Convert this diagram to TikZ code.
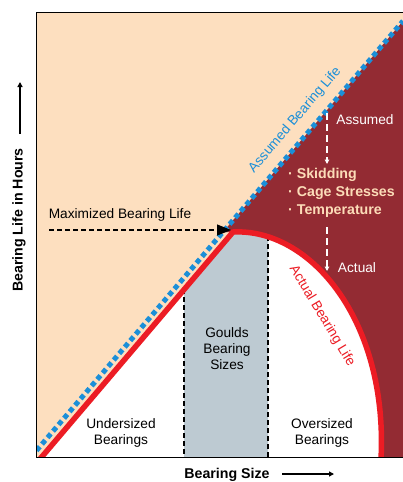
\documentclass[tikz,border=0pt]{standalone}
\usepackage{fontspec}
\setmainfont{Liberation Sans}
\usetikzlibrary{arrows.meta}
\definecolor{peach}{HTML}{FDDFBF}
\definecolor{wine}{HTML}{932B33}
\definecolor{redline}{HTML}{EC1C24}
\definecolor{blueline}{HTML}{1B8FD8}
\definecolor{band}{HTML}{BDCAD2}
\definecolor{listtxt}{HTML}{FCDCB8}
\tikzset{
  lbl/.style={inner sep=0pt, font=\fontsize{13.7}{16}\selectfont},
  listlbl/.style={inner sep=0pt, anchor=west, text=listtxt, font=\fontsize{14.2}{16}\selectfont\bfseries},
  axislbl/.style={inner sep=0pt, font=\fontsize{14.2}{16}\selectfont\bfseries},
  wdash/.style={white, line width=1.2pt, dash pattern=on 7pt off 4pt, -{Triangle[length=4.5pt,width=4.5pt]}},
  bdash/.style={black, line width=1.1pt, dash pattern=on 5pt off 3pt},
  axarrow/.style={black, line width=1.5pt, -{Triangle[length=5pt,width=5pt]}},
}
\begin{document}
\begin{tikzpicture}[x=1pt,y=-1pt]
\useasboundingbox (0,0) rectangle (403,482);
\def\curve{(40,457) -- (233,232) .. controls (310,228) and (388,320) .. (381,457)}
\begin{scope}
\clip (36,12) rectangle (403,457);
\fill[peach] (36,12) rectangle (403,457);
\fill[wine] (223,232) -- (403,21) -- (403,457) -- (381,457) .. controls (388,320) and (310,228) .. (233,232) -- cycle;
\fill[white] \curve -- cycle;
\begin{scope}
\clip (184,0) rectangle (268,457);
\fill[band] \curve -- cycle;
\end{scope}
\coordinate (d1t) at (184,289); \coordinate (d1b) at (184,457);
\coordinate (d2t) at (268,236); \coordinate (d2b) at (268,457);
\draw[bdash] (d1t) -- (d1b);
\draw[bdash] (d2t) -- (d2b);
\draw[redline, line width=5.5pt, line join=miter] (40,459) -- (233,232) .. controls (310,228) and (388,320) .. (381,459);
\coordinate (bl1) at (31,457); \coordinate (bl2) at (403,21);
\draw[blueline, line width=5pt, dash pattern=on 5pt off 3.5pt] (bl1) -- (bl2);
\end{scope}
% frame
\coordinate (fTL) at (36,12); \coordinate (fTR) at (403,12);
\coordinate (fBL) at (36,457); \coordinate (fBR) at (403,457);
\draw[black, line width=0.9pt] (fTR) -- (fTL) -- (fBL) -- (fBR);
% labels
\node[lbl, text=blueline, rotate=49.5] (abl) at (295,120) {Assumed Bearing Life};
\node[lbl, text=redline, rotate=-59] (acbl) at (322,316) {Actual Bearing Life};
\node[lbl, text=white] (assumed) at (365,120) {Assumed};
\node[lbl, text=white] (actual) at (357,268) {Actual};
\coordinate (a1) at (327,113); \coordinate (a2) at (327,164);
\coordinate (a3) at (327,227); \coordinate (a4) at (327,271);
\draw[wdash] (a1) -- (a2);
\draw[wdash] (a3) -- (a4);
\node[listlbl] (l1) at (288,175) {· Skidding};
\node[listlbl] (l2) at (288,193) {· Cage Stresses};
\node[listlbl] (l3) at (288,211) {· Temperature};
\node[lbl] (maxl) at (120,215) {Maximized Bearing Life};
\coordinate (m1) at (49,230); \coordinate (m2) at (231,230);
\draw[bdash, -{Triangle[length=14pt,width=11pt]}] (m1) -- (m2);
\node[lbl, align=center] (goulds) at (227,349) {Goulds\\Bearing\\Sizes};
\node[lbl, align=center] (under) at (121,433) {Undersized\\Bearings};
\node[lbl, align=center] (over) at (322,433) {Oversized\\Bearings};
\node[axislbl] (bsize) at (227,474.5) {Bearing Size};
\coordinate (x1) at (282,474); \coordinate (x2) at (334,474);
\draw[axarrow] (x1) -- (x2);
\node[axislbl, rotate=90] (blife) at (19,220) {Bearing Life in Hours};
\coordinate (y1) at (20,134); \coordinate (y2) at (20,82);
\draw[axarrow] (y1) -- (y2);
\end{tikzpicture}
\end{document}
